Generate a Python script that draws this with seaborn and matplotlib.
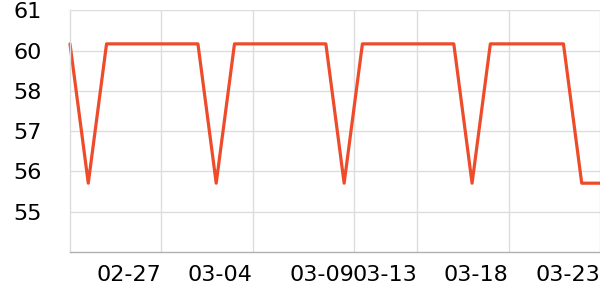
import matplotlib
matplotlib.use("Agg")
import matplotlib.pyplot as plt
import seaborn as sns
import pandas as pd

# --- data ---
dates = pd.date_range("2023-02-22", periods=30, freq="D")
values = [59.8, 55.65, 59.8, 59.8, 59.8, 59.8, 59.8, 59.8, 55.65, 59.8,
          59.8, 59.8, 59.8, 59.8, 59.8, 55.65, 59.8, 59.8, 59.8, 59.8,
          59.8, 59.8, 55.65, 59.8, 59.8, 59.8, 59.8, 59.8, 55.65, 55.65]
x_tick_dates = ["2023-02-27 00:00", "2023-03-04 00:00", "2023-03-09 13:00",
                "2023-03-13 00:00", "2023-03-18 00:00", "2023-03-23 00:00"]
x_tick_labels = ["02-27", "03-04", "03-09", "03-13", "03-18", "03-23"]
y_ticks = [54.8, 56.0, 57.2, 58.4, 59.6, 60.8]
y_tick_labels = ["55", "56", "57", "58", "60", "61"]

df = pd.DataFrame({"date": dates, "value": values})

sns.set_style("white")
plt.rcParams["font.family"] = ["DejaVu Sans"]

fig = plt.figure(figsize=(6, 3), dpi=100)
ax = fig.add_axes([70 / 600, 48 / 300, 530 / 600, 241.7 / 300])

sns.lineplot(data=df, x="date", y="value", ax=ax, color="#ee4b2b", linewidth=2.3,
             clip_on=False)

ax.set_xlim(dates[0], dates[-1])
ax.set_ylim(53.6, 60.8)
ax.set_xticks(pd.to_datetime(x_tick_dates, format="%Y-%m-%d %H:%M"))
ax.set_xticklabels(x_tick_labels, ha="right")
ax.set_yticks(y_ticks)
ax.set_yticklabels(y_tick_labels)
ax.set_xlabel("")
ax.set_ylabel("")

ax.grid(True, color="#dddddd", linewidth=1)
ax.set_axisbelow(True)
for s in ["top", "right"]:
    ax.spines[s].set_visible(False)
ax.spines["left"].set_color("#dddddd")
ax.spines["left"].set_linewidth(1)
ax.spines["bottom"].set_color("#b0b0b0")
ax.spines["bottom"].set_linewidth(1)

ax.tick_params(axis="y", length=2.5, width=1, color="#dddddd", pad=18,
               labelsize=16, labelcolor="black")
ax.tick_params(axis="x", length=2.5, width=1, color="#b0b0b0", pad=7,
               labelsize=16, labelcolor="black")

fig.savefig("out.png", dpi=100)
